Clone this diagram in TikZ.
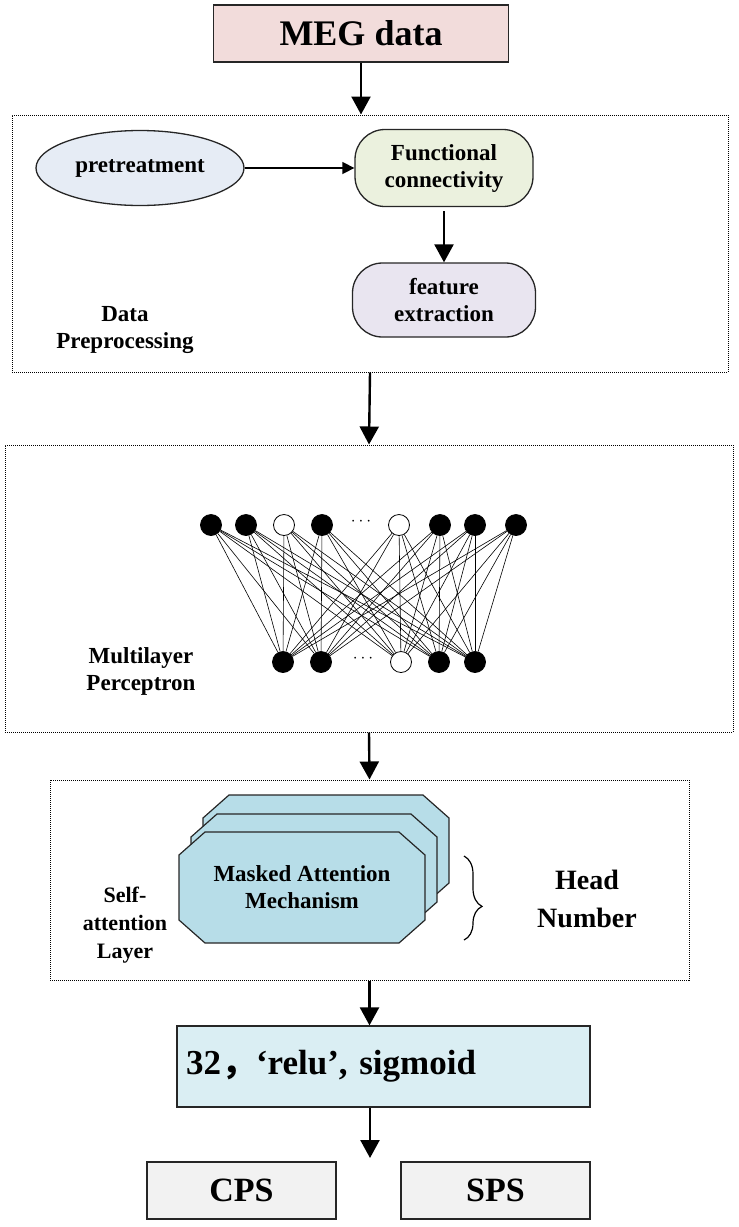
\documentclass[tikz,border=0pt]{standalone}
\usepackage{fontspec}
\setmainfont{Liberation Serif}
\newfontfamily\cjk{Noto Sans CJK SC}
\usetikzlibrary{shapes,arrows,arrows.meta}
\usetikzlibrary{decorations.pathreplacing}

\definecolor{megpink}{HTML}{F2DCDB}
\definecolor{preblue}{HTML}{E6ECF5}
\definecolor{fcgreen}{HTML}{EBF1DE}
\definecolor{featlav}{HTML}{E9E5F0}
\definecolor{headblue}{HTML}{B7DDE8}
\definecolor{relublue}{HTML}{DAEEF3}
\definecolor{outgray}{HTML}{F2F2F2}

\tikzset{
  solidbox/.style={rectangle, draw=black!85, line width=1.3pt, inner sep=0pt},
  dotbox/.style={rectangle, draw, densely dotted, line width=1pt, inner sep=0pt},
  neuron/.style={circle, draw, fill=black, line width=0.8pt, minimum size=21pt, inner sep=0pt},
  hollow/.style={neuron, fill=white},
  midfont/.style={font=\fontsize{23}{27}\selectfont\bfseries, align=center},
  bigfont/.style={font=\fontsize{34}{38}\selectfont\bfseries},
  octa/.style={draw=black!85, line width=1.2pt, fill=headblue}
}

\begin{document}
\begin{tikzpicture}[x=1pt, y=-1pt, >={Triangle[width=19pt,length=18pt]}]
\useasboundingbox (0,0) rectangle (739,1227);

% dotted frames
\node[dotbox, minimum width=716pt, minimum height=257pt] (prep) at (370,243.5) {};
\node[dotbox, minimum width=728pt, minimum height=287pt] (mlp) at (369,588.5) {};
\node[dotbox, minimum width=639pt, minimum height=200pt] (sal) at (369.5,880) {};

% input
\node[solidbox, fill=megpink, font=\fontsize{36}{40}\selectfont\bfseries, minimum width=295pt, minimum height=57pt] (meg) at (361,33.5) {MEG data};

% data preprocessing
\node[ellipse, draw=black!85, line width=1.3pt, fill=preblue, midfont, minimum width=208pt, minimum height=75pt, inner sep=0pt] (pre) at (140,168) {pretreatment};
\node[solidbox, rounded corners=30pt, fill=fcgreen, midfont, minimum width=178pt, minimum height=77pt] (fc) at (444,168) {Functional\\connectivity};
\node[solidbox, rounded corners=30pt, fill=featlav, midfont, minimum width=183pt, minimum height=74pt] (feat) at (444,300) {feature\\extraction};
\node[midfont] (preplabel) at (125,330) {Data\\Preprocessing};

\draw[line width=1.5pt, -{Triangle[width=12pt,length=12pt]}] (pre) -- (fc);
\draw[->, line width=2.4pt, shorten <=4pt] (fc) -- (feat);

% multilayer perceptron
\foreach \x/\s [count=\i] in {211/neuron, 246/neuron, 284/hollow, 322/neuron, 399/hollow, 440/neuron, 475/neuron, 516/neuron}
    \node[\s] (t\i) at (\x,525) {};
\foreach \x/\s [count=\i] in {283/neuron, 321/neuron, 401/hollow, 439/neuron, 475/neuron}
    \node[\s] (b\i) at (\x,662) {};
\foreach \i in {1,...,8}
    \foreach \j in {1,...,5}
        \draw[line width=0.6pt] (t\i) -- (b\j);
\node[font=\fontsize{16}{16}\selectfont] (tdots) at (361,522) {$\cdots$};
\node[font=\fontsize{16}{16}\selectfont] (bdots) at (363,659) {$\cdots$};
\node[midfont] (mlplabel) at (141,671) {Multilayer\\Perceptron};

% self-attention heads
\foreach \dx/\dy in {24/-37, 12/-18, 0/0}
    \draw[octa, shift={(\dx,\dy)}] (205,832) -- (399,832) -- (425,855) -- (425,920)
        -- (399,943) -- (205,943) -- (179,920) -- (179,855) -- cycle;
\node[midfont] (mam) at (302,887) {Masked Attention\\Mechanism};
\draw[line width=1.2pt, decorate, decoration={brace, amplitude=18pt, aspect=0.6}] (464,856) -- (464,940);
\node[font=\fontsize{28}{38}\selectfont\bfseries, align=center] (heads) at (587,899) {Head\\Number};
\node[font=\fontsize{22}{28}\selectfont\bfseries, align=center] (sallabel) at (125,925) {Self-\\attention\\Layer};

% output layer
\node[solidbox, fill=relublue, font=\fontsize{35}{40}\selectfont\bfseries, minimum width=413pt, minimum height=81pt, text width=395pt, align=left, inner xsep=9pt] (relu) at (383.5,1066.5) {32{\cjk ，}‘relu’, sigmoid};
\node[solidbox, fill=outgray, bigfont, minimum width=189pt, minimum height=57pt] (cps) at (241.5,1190.5) {CPS};
\node[solidbox, fill=outgray, bigfont, minimum width=189pt, minimum height=57pt] (sps) at (495.5,1190.5) {SPS};
\coordinate (split) at (370,1158);

% main flow
\draw[->, line width=2.4pt] (meg.south) -- (meg.south |- prep.north);
\draw[->, line width=2.4pt] (prep.south) -- (mlp.north);
\draw[->, line width=2.4pt] (mlp.south) -- (sal.north);
\draw[->, line width=2.4pt] (sal.south) -- (sal.south |- relu.north);
\draw[->, line width=2.4pt] (split |- relu.south) -- (split);
\end{tikzpicture}
\end{document}
